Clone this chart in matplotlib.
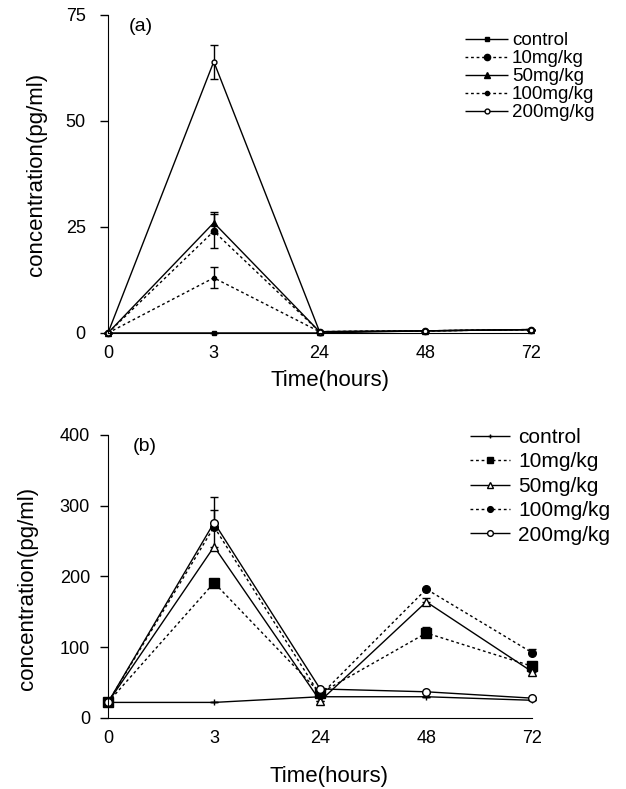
import numpy as np
import matplotlib
matplotlib.use("Agg")
import matplotlib.pyplot as plt

plt.rcParams['font.family'] = ['Liberation Sans', 'DejaVu Sans']

# =========================
# DATA
# =========================
times = ["0", "3", "24", "48", "72"]
labels = ["control", "10mg/kg", "50mg/kg", "100mg/kg", "200mg/kg"]

# panel (a)
a_control = [0, 0, 0, 0.5, 0.8]
a_10 = [0, 24, 0.3, 0.5, 0.8]
a_50 = [0, 26, 0.3, 0.5, 0.8]
a_100 = [0, 13, 0.3, 0.5, 0.8]
a_200 = [0, 64, 0.3, 0.5, 0.8]
a_err_10 = [0, 4, 0, 0, 0]
a_err_50 = [0, 2.5, 0, 0, 0]
a_err_100 = [0, 2.5, 0, 0, 0]
a_err_200 = [0, 4, 0, 0, 0]

# panel (b)
b_control = [22, 22, 30, 30, 25]
b_10 = [22, 191, 35, 120, 73]
b_50 = [22, 242, 24, 164, 65]
b_100 = [22, 270, 32, 182, 92]
b_200 = [22, 276, 41, 37, 28]
b_err_10 = [0, 0, 0, 8, 6]
b_err_50 = [0, 52, 0, 6, 6]
b_err_100 = [0, 0, 0, 0, 6]
b_err_200 = [0, 36, 0, 0, 0]

styles = [(0, ()), (0, (2, 2)), (0, ()), (0, (2, 2)), (0, ())]
markers_a = ["s", "o", "^", "o", "o"]
sizes_a = [3, 4.5, 4.5, 3, 3.5]
fills_a = ["black", "black", "black", "black", "white"]
markers_b = ["+", "s", "^", "o", "o"]
sizes_b = [4, 6.5, 6, 5.5, 5.5]
fills_b = ["black", "black", "white", "black", "white"]

fig = plt.figure(figsize=(6.26, 7.89), dpi=100)


def panel(ax, series, errs, sym, markers, sizes, fills, ymax, yticks, ypad):
    x = np.arange(len(times))
    handles = []
    for i in range(len(series)):
        e = np.array(errs[i], dtype=float)
        lo = e if sym else np.zeros(len(x))
        c = ax.errorbar(x, series[i], yerr=[lo, e], color="black",
                        lw=1.0, ls=styles[i], marker=markers[i], ms=sizes[i],
                        mfc=fills[i], mec="black", mew=1.0, capsize=3,
                        elinewidth=1.0, label=labels[i], clip_on=False)
        handles.append(c.lines[0])
    ax.set_xlim(0, 4)
    ax.set_ylim(0, ymax)
    ax.set_xticks(x)
    ax.set_xticklabels(times)
    ax.set_yticks(yticks)
    for s in ["top", "right"]:
        ax.spines[s].set_visible(False)
    ax.tick_params(labelsize=13, width=1, direction="out")
    ax.tick_params(axis="y", length=6, pad=ypad)
    ax.tick_params(axis="x", length=0, pad=9)
    ax.set_xlabel("Time(hours)", fontsize=16)
    ax.set_ylabel("concentration(pg/ml)", fontsize=16)
    ax.xaxis.label.set_va("center")
    ax.yaxis.label.set_va("center")
    return handles


# =========================
# PANEL (a)
# =========================
ax1 = fig.add_axes([0.1725, 0.578, 0.676, 0.403])
h1 = panel(ax1, [a_control, a_10, a_50, a_100, a_200],
           [np.zeros(5), a_err_10, a_err_50, a_err_100, a_err_200], True,
           markers_a, sizes_a, fills_a, 75, [0, 25, 50, 75], 10)
ax1.xaxis.set_label_coords(0.525, -0.15)
ax1.yaxis.set_label_coords(-0.168, 0.5)
ax1.text(0.048, 0.965, "(a)", transform=ax1.transAxes, fontsize=14, va="center")
ax1.legend(h1, labels, loc="upper left", bbox_to_anchor=(465 / 626, 1 - 32 / 789),
           bbox_transform=fig.transFigure, frameon=False, fontsize=13.5,
           handlelength=2.3, handletextpad=0.2, labelspacing=0.05,
           borderpad=0, borderaxespad=0)

# =========================
# PANEL (b)
# =========================
ax2 = fig.add_axes([0.1725, 0.090, 0.678, 0.359])
h2 = panel(ax2, [b_control, b_10, b_50, b_100, b_200],
           [np.zeros(5), b_err_10, b_err_50, b_err_100, b_err_200], False,
           markers_b, sizes_b, fills_b, 400, [0, 100, 200, 300, 400], 7)
ax2.xaxis.set_label_coords(0.52, -0.205)
ax2.yaxis.set_label_coords(-0.19, 0.456)
ax2.text(0.058, 0.96, "(b)", transform=ax2.transAxes, fontsize=14, va="center")
ax2.legend(h2, labels, loc="upper left", bbox_to_anchor=(470 / 626, 1 - 428 / 789),
           bbox_transform=fig.transFigure, frameon=False, fontsize=15,
           handlelength=1.9, handletextpad=0.4, labelspacing=0.26,
           markerscale=0.75, borderpad=0, borderaxespad=0)

fig.savefig("out.png", dpi=100)
